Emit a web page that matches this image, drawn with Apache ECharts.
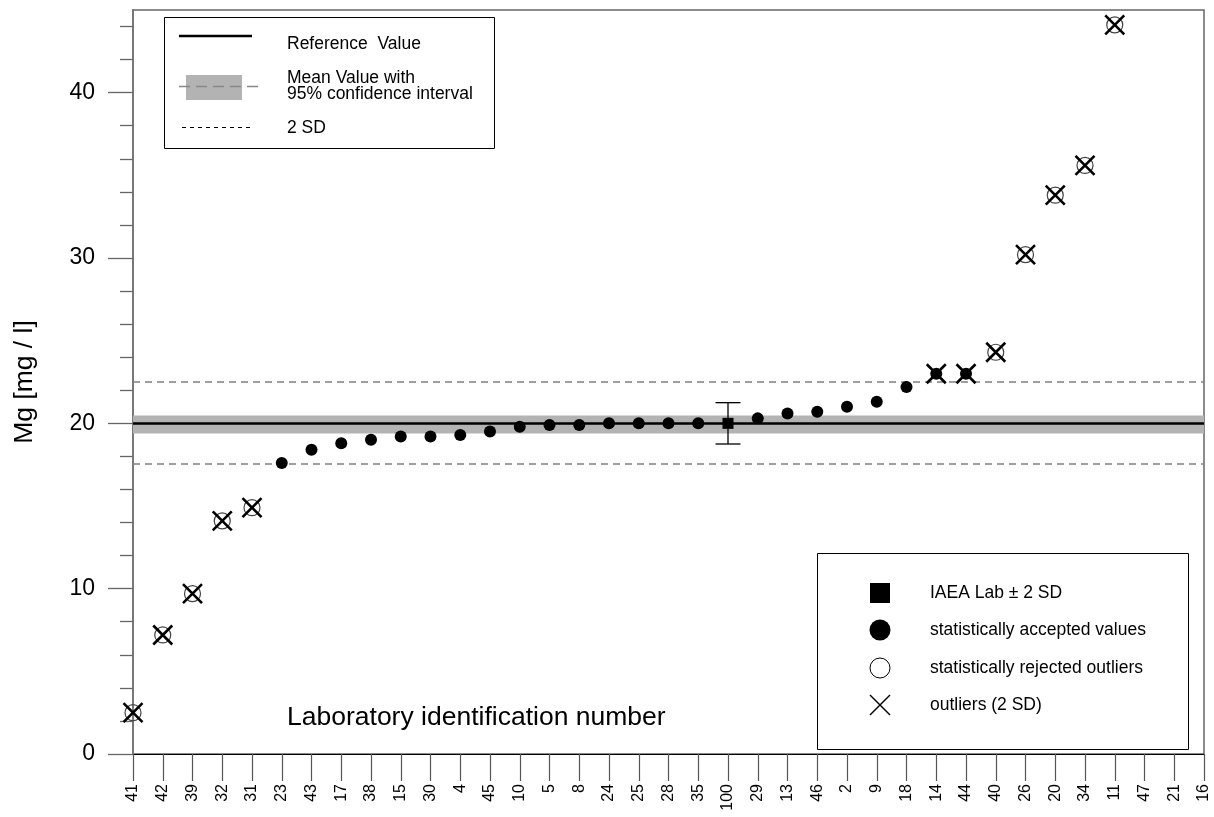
<!DOCTYPE html>
<html>
<head>
<meta charset="utf-8">
<script src="https://cdn.jsdelivr.net/npm/echarts@6/dist/echarts.min.js"></script>
<style>
html,body{margin:0;padding:0;background:#fff;}
#c{width:1214px;height:817px;}
</style>
</head>
<body>
<div id="c"></div>
<script>
// ---------- DATA ----------
const labs = ['41','42','39','32','31','23','43','17','38','15','30','4','45','10','5','8','24','25','28','35','100','29','13','46','2','9','18','14','44','40','26','20','34','11','47','21','16'];
const mgValues = [2.5,7.2,9.7,14.1,14.9,17.6,18.4,18.8,19.0,19.2,19.2,19.3,19.5,19.8,19.9,19.9,20.0,20.0,20.0,20.0,20.0,20.3,20.6,20.7,21.0,21.3,22.2,23.0,23.0,24.3,30.2,33.8,35.6,44.1,null,null,null];
// X = statistically rejected outlier + 2SD outlier, A = accepted, AX = accepted but outside 2 SD, L = IAEA lab
const status = ['X','X','X','X','X','A','A','A','A','A','A','A','A','A','A','A','A','A','A','A','L','A','A','A','A','A','A','AX','AX','X','X','X','X','X','','',''];
const referenceValue = 20.0;
const confInterval = [19.38, 20.48];
const sd2Limits = [17.55, 22.5];
const iaeaLab = '100';
const iaeaRange = [18.75, 21.25];
const yMajorTicks = [0, 10, 20, 30, 40];
const yMinorTicks = [2,4,6,8,12,14,16,18,22,24,26,28,32,34,36,38,42,44];

// ---------- CHART ----------
const fam = '"Liberation Sans", Arial, Helvetica, sans-serif';
function pick(test) {
  return mgValues.map((v, i) => (v != null && test(status[i])) ? v : '-');
}
const chart = echarts.init(document.getElementById('c'), null, {renderer: 'canvas'});

const legendFont = 17.5;
const option = {
  animation: false,
  backgroundColor: '#fff',
  textStyle: {fontFamily: fam},
  grid: {left: 133, right: 10, top: 10, bottom: 63, containLabel: false, outerBoundsMode: 'none',
         show: true, borderColor: '#666', borderWidth: 1.5, backgroundColor: 'transparent'},
  xAxis: {
    type: 'category', data: labs, boundaryGap: false,
    axisLine: {lineStyle: {color: '#000', width: 1.2}},
    axisTick: {interval: 0, length: 27, lineStyle: {color: '#555', width: 1.2}},
    axisLabel: {interval: 0, rotate: 90, fontSize: 16, margin: 30, color: '#000', fontFamily: fam},
    splitLine: {show: false}
  },
  yAxis: [
    {
      type: 'value', min: 0, max: 45,
      name: 'Mg [mg / l]', nameLocation: 'middle', nameGap: 95,
      nameTextStyle: {fontSize: 26.5, color: '#000', fontFamily: fam},
      axisLine: {show: true, lineStyle: {color: '#777', width: 1.8}},
      axisTick: {show: true, customValues: yMajorTicks, length: 25, lineStyle: {color: '#666', width: 1.3}},
      axisLabel: {customValues: yMajorTicks, fontSize: 23, margin: 38, color: '#000', fontFamily: fam},
      splitLine: {show: false}
    },
    {
      type: 'value', min: 0, max: 45, position: 'left',
      axisLine: {show: false},
      axisTick: {show: true, customValues: yMinorTicks, length: 13, lineStyle: {color: '#666', width: 1.3}},
      axisLabel: {show: false},
      splitLine: {show: false}
    }
  ],
  graphic: [
    // x-axis title inside plot
    {type: 'text', x: 287, y: 718, z: 50, style: {text: 'Laboratory identification number', fontSize: 26.5, fontFamily: fam, fill: '#000', verticalAlign: 'middle'}},
    // legend 1
    {type: 'rect', z: 100, shape: {x: 164.5, y: 17.5, width: 330, height: 131}, style: {fill: '#fff', stroke: '#000', lineWidth: 1}},
    {type: 'line', z: 101, shape: {x1: 179, y1: 36, x2: 252, y2: 36}, style: {stroke: '#000', lineWidth: 2.5}},
    {type: 'rect', z: 101, shape: {x: 186, y: 75, width: 56, height: 25}, style: {fill: '#b3b3b3'}},
    {type: 'line', z: 102, shape: {x1: 179, y1: 86.5, x2: 259, y2: 86.5}, style: {stroke: '#888', lineWidth: 1.5, lineDash: [11, 6]}},
    {type: 'line', z: 101, shape: {x1: 182, y1: 127.5, x2: 250, y2: 127.5}, style: {stroke: '#000', lineWidth: 1, lineDash: [4, 4]}},
    {type: 'text', z: 101, x: 287, y: 44, style: {text: 'Reference  Value', fontSize: legendFont, fontFamily: fam, fill: '#000', verticalAlign: 'middle'}},
    {type: 'text', z: 101, x: 287, y: 78.5, style: {text: 'Mean Value with', fontSize: legendFont, fontFamily: fam, fill: '#000', verticalAlign: 'middle'}},
    {type: 'text', z: 101, x: 287, y: 94.5, style: {text: '95% confidence interval', fontSize: legendFont, fontFamily: fam, fill: '#000', verticalAlign: 'middle'}},
    {type: 'text', z: 101, x: 287, y: 128.5, style: {text: '2 SD', fontSize: legendFont, fontFamily: fam, fill: '#000', verticalAlign: 'middle'}},
    // legend 2
    {type: 'rect', z: 100, shape: {x: 817.5, y: 553.5, width: 371, height: 196}, style: {fill: '#fff', stroke: '#000', lineWidth: 1}},
    {type: 'rect', z: 101, shape: {x: 870, y: 583, width: 20, height: 20}, style: {fill: '#000'}},
    {type: 'circle', z: 101, shape: {cx: 880, cy: 630, r: 10.5}, style: {fill: '#000'}},
    {type: 'circle', z: 101, shape: {cx: 880, cy: 668, r: 10}, style: {fill: '#fff', stroke: '#000', lineWidth: 1}},
    {type: 'line', z: 101, shape: {x1: 870, y1: 695, x2: 890, y2: 715}, style: {stroke: '#000', lineWidth: 1.5}},
    {type: 'line', z: 101, shape: {x1: 890, y1: 695, x2: 870, y2: 715}, style: {stroke: '#000', lineWidth: 1.5}},
    {type: 'text', z: 101, x: 930, y: 593, style: {text: 'IAEA Lab \u00b1 2 SD', fontSize: legendFont, fontFamily: fam, fill: '#000', verticalAlign: 'middle'}},
    {type: 'text', z: 101, x: 930, y: 630, style: {text: 'statistically accepted values', fontSize: legendFont, fontFamily: fam, fill: '#000', verticalAlign: 'middle'}},
    {type: 'text', z: 101, x: 930, y: 668, style: {text: 'statistically rejected outliers', fontSize: legendFont, fontFamily: fam, fill: '#000', verticalAlign: 'middle'}},
    {type: 'text', z: 101, x: 930, y: 705, style: {text: 'outliers (2 SD)', fontSize: legendFont, fontFamily: fam, fill: '#000', verticalAlign: 'middle'}}
  ],
  series: [
    {
      name: 'reference', type: 'scatter', symbolSize: 0, silent: true, z: 1,
      data: pick(() => true),
      markArea: {silent: true, itemStyle: {color: '#b3b3b3', opacity: 1}, data: [[{yAxis: confInterval[0]}, {yAxis: confInterval[1]}]]},
      markLine: {
        silent: true, symbol: ['none', 'none'], label: {show: false}, emphasis: {disabled: true},
        data: [
          {yAxis: referenceValue, lineStyle: {color: '#000', width: 2.5, type: 'solid', opacity: 1}},
          {yAxis: sd2Limits[0], lineStyle: {color: '#808080', width: 1.5, type: [7, 5], opacity: 1}},
          {yAxis: sd2Limits[1], lineStyle: {color: '#808080', width: 1.5, type: [7, 5], opacity: 1}}
        ]
      }
    },
    {
      name: 'rejected', type: 'scatter', z: 10, silent: true,
      symbol: 'circle', symbolSize: 16,
      itemStyle: {color: 'rgba(255,255,255,0)', borderColor: '#444', borderWidth: 1.2, opacity: 1},
      data: pick(s => s === 'X')
    },
    {
      name: 'accepted', type: 'scatter', z: 11, silent: true,
      symbol: 'circle', symbolSize: 12,
      itemStyle: {color: '#000', opacity: 1},
      data: pick(s => s === 'A' || s === 'AX')
    },
    {
      name: 'outliers 2SD', type: 'scatter', z: 12, silent: true,
      symbol: 'path://M0,0L20,20M20,0L0,20', symbolSize: 19,
      itemStyle: {color: 'rgba(0,0,0,0)', borderColor: '#000', borderWidth: 2.6, opacity: 1},
      data: pick(s => s === 'X' || s === 'AX')
    },
    {
      name: 'IAEA', type: 'scatter', z: 12, silent: true,
      symbol: 'rect', symbolSize: 11,
      itemStyle: {color: '#000', opacity: 1},
      data: pick(s => s === 'L')
    },
    {
      name: 'IAEA range', type: 'custom', z: 11, silent: true,
      data: [[iaeaLab, iaeaRange[0], iaeaRange[1]]],
      encode: {x: 0, y: [1, 2]},
      renderItem: function (params, api) {
        const lo = api.coord([api.value(0), api.value(1)]);
        const hi = api.coord([api.value(0), api.value(2)]);
        const w = 12.5;
        const st = {stroke: '#000', lineWidth: 1.3};
        return {type: 'group', children: [
          {type: 'line', shape: {x1: lo[0], y1: lo[1], x2: hi[0], y2: hi[1]}, style: st},
          {type: 'line', shape: {x1: lo[0] - w, y1: lo[1], x2: lo[0] + w, y2: lo[1]}, style: st},
          {type: 'line', shape: {x1: hi[0] - w, y1: hi[1], x2: hi[0] + w, y2: hi[1]}, style: st}
        ]};
      }
    }
  ]
};
chart.setOption(option);
</script>
</body>
</html>
